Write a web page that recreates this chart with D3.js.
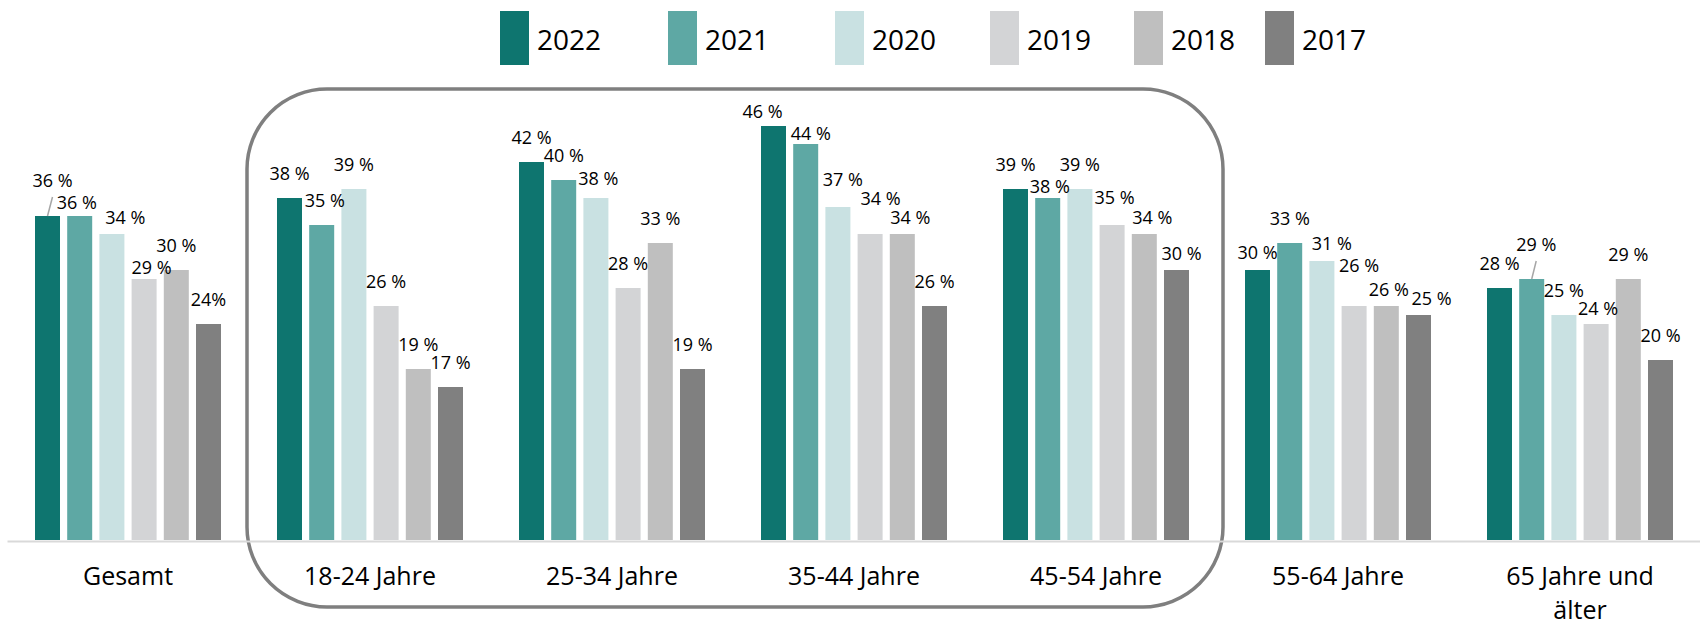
<!DOCTYPE html>
<html>
<head>
<meta charset="utf-8">
<script src="https://cdn.jsdelivr.net/npm/d3@7"></script>
<style>
  html, body { margin: 0; padding: 0; background: #fff; }
  svg { display: block; }
  text { font-family: "Open Sans", "Noto Sans", sans-serif; fill: #000; }
</style>
</head>
<body>
<svg id="chart" width="1700" height="626"></svg>
<script>
// ---- data ----
const categories = ["Gesamt", "18-24 Jahre", "25-34 Jahre", "35-44 Jahre", "45-54 Jahre", "55-64 Jahre", "65 Jahre und älter"];
const tickLabels = [["Gesamt"], ["18-24 Jahre"], ["25-34 Jahre"], ["35-44 Jahre"], ["45-54 Jahre"], ["55-64 Jahre"], ["65 Jahre und", "älter"]];
const seriesNames = ["2022", "2021", "2020", "2019", "2018", "2017"];
const values2022 = [36, 38, 42, 46, 39, 30, 28];
const values2021 = [36, 35, 40, 44, 38, 33, 29];
const values2020 = [34, 39, 38, 37, 39, 31, 25];
const values2019 = [29, 26, 28, 34, 35, 26, 24];
const values2018 = [30, 19, 33, 34, 34, 26, 29];
const values2017 = [24, 17, 19, 26, 30, 25, 20];
const seriesValues = [values2022, values2021, values2020, values2019, values2018, values2017];
const labelsNoSpace = [[5, 0]]; // [series, category] printed as "24%"
const highlighted = ["18-24 Jahre", "45-54 Jahre"]; // first and last of the framed groups

// ---- styles / layout ----
const colors = ["#0e756f", "#5ea8a4", "#c9e1e2", "#d3d4d6", "#bfbfbf", "#808080"];
const legendX = [500, 668, 835, 990, 1134, 1265];
// per-label nudges [dx, dy] (series x category), relative to default position above bar
const labelNudge = [
  [[5, -10.5], [0, 0], [0, 0], [-11, 10], [0, 0], [0, 7], [0, 0]],
  [[-3, 11], [3, 0], [0, 0], [5, 14], [2, 13], [0, 0], [4.5, -9.5]],
  [[13.5, 8], [0, 0], [2.5, 5.5], [5, -2.5], [0, 0], [10, 7], [0, 0]],
  [[7.5, 13.5], [0, 0], [0, 0], [10.5, -10.5], [2.5, -2.5], [5, -16], [2, 9]],
  [[0, 0], [0, 0], [0, 0], [8, 8.5], [8, 8.5], [2.5, 8.5], [0, 0]],
  [[0, 0], [0, 0], [0, 0], [0, 0], [5, 8.5], [13, 8], [0, 0]]
];
const leaderLines = [[0, 0], [1, 6]]; // [series, category]

const svg = d3.select("#chart");

const x0 = d3.scaleBand().domain(categories).range([7, 1701]).padding(0);
const x1 = d3.scaleBand().domain(seriesNames).range([0, x0.bandwidth()])
  .paddingInner(0.2236).paddingOuter(0.8696);
const y = d3.scaleLinear().domain([0, 60]).range([540, 0]);
const color = d3.scaleOrdinal().domain(seriesNames).range(colors);

// flatten
const rows = [];
seriesNames.forEach((s, si) => {
  categories.forEach((c, ci) => {
    rows.push({ s, si, c, ci, v: seriesValues[si][ci] });
  });
});

// rounded frame
const fx0 = x0(highlighted[0]) - 2;
const fx1 = x0(highlighted[1]) + x0.bandwidth() + 6;
svg.append("rect")
  .attr("x", fx0).attr("y", 89)
  .attr("width", fx1 - fx0).attr("height", 518)
  .attr("rx", 80).attr("ry", 80)
  .attr("fill", "none")
  .attr("stroke", "#7f7f7f")
  .attr("stroke-width", 3.5);

// bars
svg.append("g").selectAll("rect")
  .data(rows)
  .join("rect")
  .attr("x", d => x0(d.c) + x1(d.s))
  .attr("y", d => y(d.v))
  .attr("width", x1.bandwidth())
  .attr("height", d => y(0) - y(d.v))
  .attr("fill", d => color(d.s));

// axis
const axis = svg.append("g")
  .attr("transform", "translate(0,541)")
  .call(d3.axisBottom(x0).tickSize(0).tickSizeOuter(0));
axis.select(".domain").attr("stroke", "#d9d9d9").attr("stroke-width", 2);
axis.selectAll(".tick text").remove();
axis.selectAll(".tick").each(function (d) {
  const i = categories.indexOf(d);
  const t = d3.select(this).append("text")
    .attr("text-anchor", "middle")
    .attr("font-size", 25)
    .attr("fill", "#000");
  tickLabels[i].forEach((line, li) => {
    t.append("tspan").attr("x", 0).attr("y", 44 + li * 34).text(line);
  });
});

// label positions
function labelPos(d) {
  const n = labelNudge[d.si][d.ci];
  return {
    x: x0(d.c) + x1(d.s) + x1.bandwidth() / 2 + n[0],
    y: y(d.v) - 18.5 + n[1]
  };
}

// leader lines
svg.append("g").selectAll("line")
  .data(rows.filter(d => leaderLines.some(l => l[0] === d.si && l[1] === d.ci)))
  .join("line")
  .attr("x1", d => x0(d.c) + x1(d.s) + x1.bandwidth() / 2)
  .attr("y1", d => y(d.v))
  .attr("x2", d => labelPos(d).x)
  .attr("y2", d => labelPos(d).y + 10)
  .attr("stroke", "#a6a6a6")
  .attr("stroke-width", 1.5);

// value labels
svg.append("g").selectAll("text")
  .data(rows)
  .join("text")
  .attr("x", d => labelPos(d).x)
  .attr("y", d => labelPos(d).y)
  .attr("text-anchor", "middle")
  .attr("font-size", 18)
  .text(d => labelsNoSpace.some(l => l[0] === d.si && l[1] === d.ci) ? d.v + "%" : d.v + " %");

// legend
const legend = svg.append("g").selectAll("g")
  .data(seriesNames)
  .join("g")
  .attr("transform", (d, i) => `translate(${legendX[i]},0)`);
legend.append("rect")
  .attr("x", 0).attr("y", 11)
  .attr("width", 29).attr("height", 54)
  .attr("fill", d => color(d));
legend.append("text")
  .attr("x", 37).attr("y", 50)
  .attr("font-size", 28)
  .text(d => d);
</script>
</body>
</html>
